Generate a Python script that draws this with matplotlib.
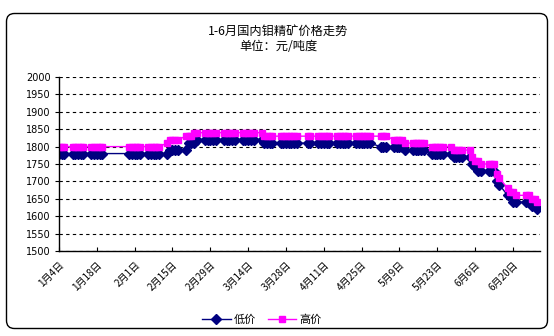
import matplotlib
matplotlib.use("Agg")
import matplotlib.pyplot as plt
from matplotlib.patches import FancyBboxPatch
import pandas as pd

plt.rcParams['font.family'] = ['Noto Sans CJK SC', 'DejaVu Sans']

title_text = "1-6月国内钼精矿价格走势"
subtitle_text = "单位：元/吨度"
series_names = ["低价", "高价"]

dates = [
    "2012-01-04", "2012-01-05", "2012-01-06",
    "2012-01-09", "2012-01-10", "2012-01-11", "2012-01-12", "2012-01-13",
    "2012-01-16", "2012-01-17", "2012-01-18", "2012-01-19", "2012-01-20",
    "2012-01-30", "2012-01-31", "2012-02-01", "2012-02-02", "2012-02-03",
    "2012-02-06", "2012-02-07", "2012-02-08", "2012-02-09", "2012-02-10",
    "2012-02-13", "2012-02-14", "2012-02-15", "2012-02-16", "2012-02-17",
    "2012-02-20", "2012-02-21", "2012-02-22", "2012-02-23", "2012-02-24",
    "2012-02-27", "2012-02-28", "2012-02-29", "2012-03-01", "2012-03-02",
    "2012-03-05", "2012-03-06", "2012-03-07", "2012-03-08", "2012-03-09",
    "2012-03-12", "2012-03-13", "2012-03-14", "2012-03-15", "2012-03-16",
    "2012-03-19", "2012-03-20", "2012-03-21", "2012-03-22", "2012-03-23",
    "2012-03-26", "2012-03-27", "2012-03-28", "2012-03-29", "2012-03-30", "2012-03-31", "2012-04-01",
    "2012-04-05", "2012-04-06",
    "2012-04-09", "2012-04-10", "2012-04-11", "2012-04-12", "2012-04-13",
    "2012-04-16", "2012-04-17", "2012-04-18", "2012-04-19", "2012-04-20",
    "2012-04-23", "2012-04-24", "2012-04-25", "2012-04-26", "2012-04-27", "2012-04-28",
    "2012-05-02", "2012-05-03", "2012-05-04",
    "2012-05-07", "2012-05-08", "2012-05-09", "2012-05-10", "2012-05-11",
    "2012-05-14", "2012-05-15", "2012-05-16", "2012-05-17", "2012-05-18",
    "2012-05-21", "2012-05-22", "2012-05-23", "2012-05-24", "2012-05-25",
    "2012-05-28", "2012-05-29", "2012-05-30", "2012-05-31", "2012-06-01",
    "2012-06-04", "2012-06-05", "2012-06-06", "2012-06-07", "2012-06-08",
    "2012-06-11", "2012-06-12", "2012-06-13", "2012-06-14", "2012-06-15",
    "2012-06-18", "2012-06-19", "2012-06-20", "2012-06-21",
    "2012-06-25", "2012-06-26", "2012-06-27", "2012-06-28", "2012-06-29",
]

low_price = [
    1780, 1780, 1780,
    1780, 1780, 1780, 1780, 1780,
    1780, 1780, 1780, 1780, 1780,
    1780, 1780, 1780, 1780, 1780,
    1780, 1780, 1780, 1780, 1780,
    1780, 1790, 1790, 1790, 1790,
    1790, 1810, 1810, 1810, 1820,
    1820, 1820, 1820, 1820, 1820,
    1820, 1820, 1820, 1820, 1820,
    1820, 1820, 1820, 1820, 1820,
    1820, 1810, 1810, 1810, 1810,
    1810, 1810, 1810, 1810, 1810, 1810, 1810,
    1810, 1810,
    1810, 1810, 1810, 1810, 1810,
    1810, 1810, 1810, 1810, 1810,
    1810, 1810, 1810, 1810, 1810, 1810,
    1800, 1800, 1800,
    1800, 1800, 1800, 1800, 1790,
    1790, 1790, 1790, 1790, 1790,
    1780, 1780, 1780, 1780, 1780,
    1780, 1770, 1770, 1770, 1770,
    1770, 1750, 1740, 1730, 1730,
    1730, 1730, 1730, 1700, 1690,
    1660, 1660, 1640, 1640,
    1640, 1640, 1630, 1630, 1620,
]

high_price = [
    1800, 1800, 1800,
    1800, 1800, 1800, 1800, 1800,
    1800, 1800, 1800, 1800, 1800,
    1800, 1800, 1800, 1800, 1800,
    1800, 1800, 1800, 1800, 1800,
    1810, 1820, 1820, 1820, 1820,
    1830, 1830, 1830, 1840, 1840,
    1840, 1840, 1840, 1840, 1840,
    1840, 1840, 1840, 1840, 1840,
    1840, 1840, 1840, 1840, 1840,
    1840, 1830, 1830, 1830, 1830,
    1830, 1830, 1830, 1830, 1830, 1830, 1830,
    1830, 1830,
    1830, 1830, 1830, 1830, 1830,
    1830, 1830, 1830, 1830, 1830,
    1830, 1830, 1830, 1830, 1830, 1830,
    1830, 1830, 1830,
    1820, 1820, 1820, 1820, 1810,
    1810, 1810, 1810, 1810, 1810,
    1800, 1800, 1800, 1800, 1800,
    1800, 1790, 1790, 1790, 1790,
    1790, 1770, 1760, 1760, 1750,
    1750, 1750, 1750, 1720, 1710,
    1680, 1670, 1670, 1660,
    1660, 1660, 1650, 1650, 1640,
]

tick_dates = ["2012-01-04", "2012-01-18", "2012-02-01", "2012-02-15", "2012-02-29",
              "2012-03-14", "2012-03-28", "2012-04-11", "2012-04-25", "2012-05-09",
              "2012-05-23", "2012-06-06", "2012-06-20"]
tick_labels = ["1月4日", "1月18日", "2月1日", "2月15日", "2月29日", "3月14日", "3月28日",
               "4月11日", "4月25日", "5月9日", "5月23日", "6月6日", "6月20日"]
y_ticks = [1500, 1550, 1600, 1650, 1700, 1750, 1800, 1850, 1900, 1950, 2000]

W, H = 554, 336
fig = plt.figure(figsize=(W / 100, H / 100), dpi=100)
fig.patch.set_facecolor("white")

# rounded chart border
bg = fig.add_axes([0, 0, 1, 1])
bg.set_xlim(0, W)
bg.set_ylim(H, 0)
bg.axis("off")
bg.add_patch(FancyBboxPatch((6.5, 13.5), 541, 315,
                            boxstyle="round,pad=0,rounding_size=8",
                            fc="white", ec="black", lw=1.0))

x0, x1, ytop, ybot = 59, 540, 77, 251
ax = fig.add_axes([x0 / W, 1 - ybot / H, (x1 - x0) / W, (ybot - ytop) / H])
ax.set_facecolor("none")

d = pd.to_datetime(dates)
ax.plot(d, low_price, color="#000080", lw=1.0, marker="D", ms=4.8,
        mec="#000080", mfc="#000080", label=series_names[0], zorder=3)
ax.plot(d, high_price, color="#FF00FF", lw=1.0, marker="s", ms=4.8,
        mec="#FF00FF", mfc="#FF00FF", label=series_names[1], zorder=4)

ax.set_xlim(pd.Timestamp("2012-01-04"), pd.Timestamp("2012-06-30"))
ax.set_ylim(1500, 2000)
ax.set_yticks(y_ticks)
ax.set_yticklabels([str(v) for v in y_ticks], fontsize=7, family=["DejaVu Sans"])
ax.set_xticks(pd.to_datetime(tick_dates))
ax.set_xticklabels(tick_labels, rotation=45, ha="right", va="top",
                   rotation_mode="anchor", fontsize=7.2)
ax.tick_params(axis="x", direction="in", length=3, width=0.8, pad=6)
ax.tick_params(axis="y", direction="out", length=3, width=0.8, pad=3)

ax.grid(axis="y", color="black", linestyle=(0, (3, 3)), linewidth=0.8)
ax.set_axisbelow(True)
for s in ["top", "right"]:
    ax.spines[s].set_visible(False)
for s in ["left", "bottom"]:
    ax.spines[s].set_linewidth(1.0)
    ax.spines[s].set_zorder(5)

fig.text(278 / W, 1 - 31 / H, title_text, ha="center", va="center", fontsize=8.8)
fig.text(278 / W, 1 - 47 / H, subtitle_text, ha="center", va="center", fontsize=8.8)

fig.legend(loc="center", bbox_to_anchor=(262 / W, 1 - 320 / H), ncol=2,
           frameon=False, fontsize=8, handlelength=2.6, columnspacing=1.0,
           handletextpad=0.3)

fig.savefig("out.png", dpi=100)
